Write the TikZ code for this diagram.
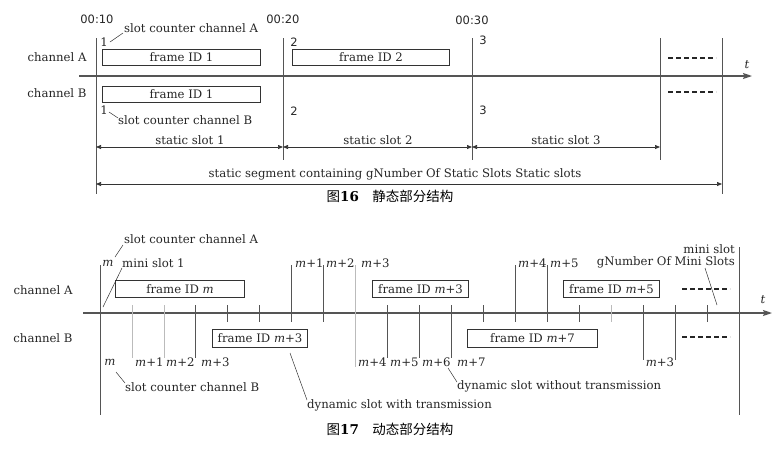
\documentclass[tikz,border=0pt]{standalone}
\usepackage{fontspec}
\setmainfont{DejaVu Serif}
\newfontfamily\cjk{Noto Sans CJK SC}
\newfontfamily\numf{DejaVu Sans}
\usetikzlibrary{arrows.meta}
\definecolor{ln}{HTML}{555555}
\definecolor{lt}{HTML}{BBBBBB}
\begin{document}
\begin{tikzpicture}[x=1pt,y=-1pt,
  lbl/.style={font=\fontsize{11.7}{13}\selectfont, inner sep=0pt, text=black!85},
  num/.style={font=\numf\fontsize{11.5}{13}\selectfont, inner sep=0pt, text=black!85},
  frm/.style={draw=black!80, line width=1.1pt, inner sep=0pt, anchor=north west,
    font=\fontsize{11.7}{13}\selectfont, text=black!85},
  vline/.style={draw=ln, line width=0.8pt},
  tick/.style={draw=ln, line width=0.8pt},
  ltick/.style={draw=lt, line width=0.8pt},
  axis/.style={draw=ln, line width=1.4pt, -{Stealth[length=9pt,width=6pt,inset=1.5pt]}},
  dim/.style={draw=black!80, line width=0.7pt, {Triangle[length=5pt,width=4pt]}-{Triangle[length=5pt,width=4pt]}},
  lead/.style={draw=black!80, line width=0.5pt},
  dsh/.style={draw=black!85, line width=1.2pt, dash pattern=on 5pt off 3pt},
  figcap/.style={font=\cjk\fontsize{13.5}{15}\selectfont, inner sep=0pt}
]
\useasboundingbox (0,0) rectangle (777,451);

% ================= Figure 16 =================
\coordinate (a1) at (79,76);
\coordinate (a2) at (752,76);
\draw[axis] (a1) -- (a2);
\node[lbl, font=\itshape\fontsize{11.7}{13}\selectfont] (t1) at (747,65) {t};

\coordinate (v1t) at (96,38);  \coordinate (v1b) at (96,194);
\coordinate (v2t) at (283,38); \coordinate (v2b) at (283,160);
\coordinate (v3t) at (472,38); \coordinate (v3b) at (472,160);
\coordinate (v4t) at (660,38); \coordinate (v4b) at (660,160);
\coordinate (v5t) at (722,38); \coordinate (v5b) at (722,194);
\foreach \i in {1,...,5} \draw[vline] (v\i t) -- (v\i b);

\node[num] (tm1) at (97,19) {00:10};
\node[num] (tm2) at (283,19) {00:20};
\node[num] (tm3) at (472,20) {00:30};

\node[lbl] (ch1a) at (57,57) {channel A};
\node[lbl] (ch1b) at (57,93) {channel B};

\node[frm, minimum width=158pt, minimum height=16pt] (fa1) at (102,49) {frame ID 1};
\node[frm, minimum width=157pt, minimum height=16pt] (fa2) at (292,49) {frame ID 2};
\node[frm, minimum width=158pt, minimum height=16pt] (fb1) at (102,86) {frame ID 1};

\node[lbl] (s1a) at (104,42) {1};
\node[lbl, anchor=west] (sca) at (124,28) {slot counter channel A};
\coordinate (l1s) at (110,42); \coordinate (l1e) at (123,33);
\draw[lead] (l1s) -- (l1e);
\node[lbl] (s1b) at (104,110) {1};
\node[lbl, anchor=west] (scb) at (118,120) {slot counter channel B};
\coordinate (l2s) at (109,112); \coordinate (l2e) at (118,118);
\draw[lead] (l2s) -- (l2e);

\node[num] (s2a) at (294,42) {2};
\node[num] (s2b) at (294,111) {2};
\node[num] (s3a) at (483,40) {3};
\node[num] (s3b) at (483,110) {3};

\coordinate (d1s) at (668,58); \coordinate (d1e) at (716,58);
\coordinate (d2s) at (668,92); \coordinate (d2e) at (716,92);
\draw[dsh] (d1s) -- (d1e);
\draw[dsh] (d2s) -- (d2e);

\coordinate (p1) at (96,147); \coordinate (p2) at (283,147);
\coordinate (p3) at (472,147); \coordinate (p4) at (660,147);
\draw[dim] (p1) -- (p2);
\draw[dim] (p2) -- (p3);
\draw[dim] (p3) -- (p4);
\node[lbl] (ss1) at (190,140) {static slot 1};
\node[lbl] (ss2) at (378,140) {static slot 2};
\node[lbl] (ss3) at (566,140) {static slot 3};

\coordinate (q1) at (96,184); \coordinate (q2) at (722,184);
\draw[dim] (q1) -- (q2);
\node[lbl] (sseg) at (395,174) {static segment containing gNumber Of Static Slots Static slots};

\node[figcap] (cap16) at (390,196) {图{\fontspec{DejaVu Serif}\bfseries 16}\quad 静态部分结构};

% ================= Figure 17 =================
\coordinate (b1) at (83,313);
\coordinate (b2) at (772,313);
\draw[axis] (b1) -- (b2);
\node[lbl, font=\itshape\fontsize{11.7}{13}\selectfont] (t2) at (763,300) {t};

\coordinate (w0t) at (100,265); \coordinate (w0b) at (100,415);
\coordinate (w20t) at (739,247); \coordinate (w20b) at (739,415);
\draw[vline, line width=1pt] (w0t) -- (w0b);
\draw[vline] (w20t) -- (w20b);

% ticks: index/top/bottom/style
\foreach \i/\tp/\bt/\st in {1/305/358/ltick, 2/305/358/ltick, 3/305/358/tick, 4/305/322/tick,
  5/305/322/tick, 6/265/322/tick, 7/265/322/tick, 8/265/367/ltick, 9/305/358/tick,
  10/305/358/tick, 11/305/358/tick, 12/305/322/tick, 13/265/322/tick, 14/265/322/tick,
  15/305/322/tick, 16/305/322/ltick, 17/305/360/tick, 18/305/360/tick, 19/305/322/tick}
  \draw[\st] ({100+31.95*\i},\tp) -- ({100+31.95*\i},\bt);

\node[lbl] (ch2a) at (43,290) {channel A};
\node[lbl] (ch2b) at (43,338) {channel B};

\node[frm, minimum width=129pt, minimum height=17pt] (fm)  at (115,280) {frame ID \textit{m}};
\node[frm, minimum width=96pt,  minimum height=17pt] (fm3a) at (372,280) {frame ID \textit{m}+3};
\node[frm, minimum width=96pt,  minimum height=17pt] (fm5) at (563,280) {frame ID \textit{m}+5};
\node[frm, minimum width=95pt,  minimum height=18pt] (fm3b) at (212,329) {frame ID \textit{m}+3};
\node[frm, minimum width=130pt, minimum height=18pt] (fm7) at (467,329) {frame ID \textit{m}+7};

% top labels
\node[lbl] (mt0) at (108,263) {\textit{m}};
\node[lbl, anchor=west] (mini1) at (122,263) {mini slot 1};
\node[lbl, anchor=west] (mt1) at (295,263) {\textit{m}+1};
\node[lbl, anchor=west] (mt2) at (326,263) {\textit{m}+2};
\node[lbl, anchor=west] (mt3) at (361,263) {\textit{m}+3};
\node[lbl, anchor=west] (mt4) at (518,263) {\textit{m}+4};
\node[lbl, anchor=west] (mt5) at (550,263) {\textit{m}+5};

% bottom labels
\node[lbl] (mb0) at (110,362) {\textit{m}};
\node[lbl, anchor=west] (mb1) at (135,362) {\textit{m}+1};
\node[lbl, anchor=west] (mb2) at (166,362) {\textit{m}+2};
\node[lbl, anchor=west] (mb3) at (201,362) {\textit{m}+3};
\node[lbl, anchor=west] (mb4) at (358,362) {\textit{m}+4};
\node[lbl, anchor=west] (mb5) at (390,362) {\textit{m}+5};
\node[lbl, anchor=west] (mb6) at (422,362) {\textit{m}+6};
\node[lbl, anchor=west] (mb7) at (457,362) {\textit{m}+7};
\node[lbl] (mb3r) at (660,362) {\textit{m}+3};

% annotations
\node[lbl, anchor=west] (scA) at (124,239) {slot counter channel A};
\coordinate (k1s) at (115,257); \coordinate (k1e) at (123,245);
\draw[lead] (k1s) -- (k1e);
\coordinate (k2s) at (103,307); \coordinate (k2e) at (122,268);
\draw[lead] (k2s) -- (k2e);
\node[lbl, anchor=west] (scB) at (125,387) {slot counter channel B};
\coordinate (k3s) at (116,372); \coordinate (k3e) at (125,383);
\draw[lead] (k3s) -- (k3e);
\node[lbl, anchor=west] (dwt) at (307,405) {dynamic slot with transmission};
\coordinate (k4s) at (290,353); \coordinate (k4e) at (307,400);
\draw[lead] (k4s) -- (k4e);
\node[lbl, anchor=west] (dwo) at (457,386) {dynamic slot without transmission};
\coordinate (k5s) at (448,368); \coordinate (k5e) at (457,382);
\draw[lead] (k5s) -- (k5e);
\node[lbl, anchor=east] (msl) at (735,249) {mini slot};
\node[lbl, anchor=east] (gnm) at (735,262) {gNumber Of Mini Slots};
\coordinate (k6s) at (705,268); \coordinate (k6e) at (717,305);
\draw[lead] (k6s) -- (k6e);

\coordinate (e1s) at (682,289); \coordinate (e1e) at (730,289);
\coordinate (e2s) at (682,337); \coordinate (e2e) at (730,337);
\draw[dsh] (e1s) -- (e1e);
\draw[dsh] (e2s) -- (e2e);

\node[figcap] (cap17) at (390,429) {图{\fontspec{DejaVu Serif}\bfseries 17}\quad 动态部分结构};
\end{tikzpicture}
\end{document}
